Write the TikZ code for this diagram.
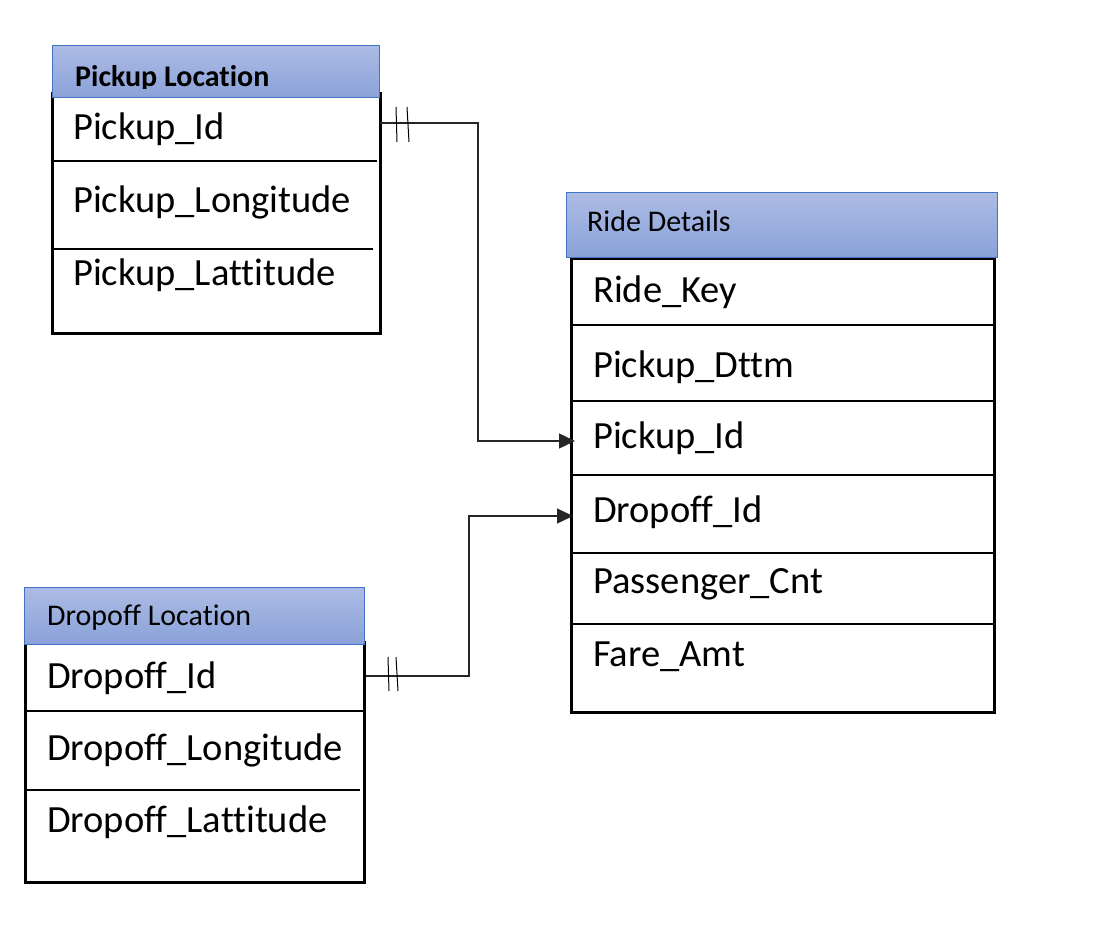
\documentclass[tikz,border=0pt]{standalone}
\usepackage{fontspec}
\setmainfont[Ligatures={NoCommon}]{Carlito}
\usetikzlibrary{arrows.meta}
\definecolor{hdrtop}{RGB}{172,187,228}
\definecolor{hdrbot}{RGB}{138,162,217}
\definecolor{hdrline}{RGB}{68,114,196}
\tikzset{
  hdr/.style={draw=hdrline, line width=1pt, top color=hdrtop, bottom color=hdrbot},
  tbody/.style={draw=black, line width=3pt, fill=white, inner sep=0pt, anchor=north west},
  rowsep/.style={draw=black, line width=1.2pt},
  fld/.style={anchor=base west, inner sep=0pt, font=\fontsize{38.5}{40}\selectfont},
  ttl/.style={anchor=base west, inner sep=0pt, font=\fontsize{30}{32}\selectfont},
  rel/.style={draw=black!85, line width=1.4pt},
  relarrow/.style={rel, -{Triangle[length=16pt,width=15pt]}},
  crossbar/.style={draw=black, line width=1pt}
}
\begin{document}
\begin{tikzpicture}[x=1pt,y=-1pt]
\useasboundingbox (0,0) rectangle (1100,936);

% ---------- Pickup Location ----------
\node[tbody, minimum width=328pt, minimum height=240pt] (pbody) at (51,92) {};
\draw[rowsep] (51,161) -- (377,161);
\draw[rowsep] (51,249) -- (373,249);
\shade[hdr] (52,46) rectangle (379,98);
\begin{scope}
  \clip (52,46) rectangle (379,89);
  \node[ttl, font=\fontsize{30}{32}\selectfont\bfseries] (ptitle) at (75,87) {Pickup Location};
\end{scope}
\node[fld] (pid) at (73,140) {Pickup\_Id};
\node[fld] (plon) at (73,212) {Pickup\_Longitude};
\node[fld] (plat) at (73,285) {Pickup\_Lattitude};

% ---------- Ride Details ----------
\node[tbody, minimum width=423pt, minimum height=454pt] (rbody) at (570,257) {};
\draw[rowsep] (570,325) -- (993,325);
\draw[rowsep] (570,401) -- (993,401);
\draw[rowsep] (570,475) -- (993,475);
\draw[rowsep] (570,553) -- (993,553);
\draw[rowsep] (570,624) -- (993,624);
\shade[hdr] (566,193) rectangle (997,257);
\node[ttl] (rtitle) at (587,232) {Ride Details};
\node[fld] (rkey) at (593,302) {Ride\_Key};
\node[fld] (rdttm) at (593,377) {Pickup\_Dttm};
\node[fld] (rpid) at (593,448) {Pickup\_Id};
\node[fld] (rdid) at (593,522) {Dropoff\_Id};
\node[fld] (rcnt) at (593,593) {Passenger\_Cnt};
\node[fld] (ramt) at (593,666) {Fare\_Amt};

% ---------- Dropoff Location ----------
\node[tbody, minimum width=339pt, minimum height=240pt] (dbody) at (24,641) {};
\draw[rowsep] (24,711) -- (363,711);
\draw[rowsep] (24,790) -- (360,790);
\shade[hdr] (24,587) rectangle (364,644);
\node[ttl] (dtitle) at (47,625) {Dropoff Location};
\node[fld] (did) at (47,688) {Dropoff\_Id};
\node[fld] (dlon) at (47,760) {Dropoff\_Longitude};
\node[fld] (dlat) at (47,832) {Dropoff\_Lattitude};

% ---------- Relationships ----------
\coordinate (pid-out) at (380,123);
\coordinate (rpid-in) at (575,441);
\coordinate (did-out) at (366,676);
\coordinate (rdid-in) at (573,516);

\draw[relarrow] (pid-out) -- ++(98,0) |- (rpid-in);
\draw[crossbar] (396,107) -- (397,142);
\draw[crossbar] (407,107) -- (409,142);

\draw[relarrow] (did-out) -- ++(103,0) |- (rdid-in);
\draw[crossbar] (388,657) -- (389,691);
\draw[crossbar] (396,657) -- (398,691);
\end{tikzpicture}
\end{document}
